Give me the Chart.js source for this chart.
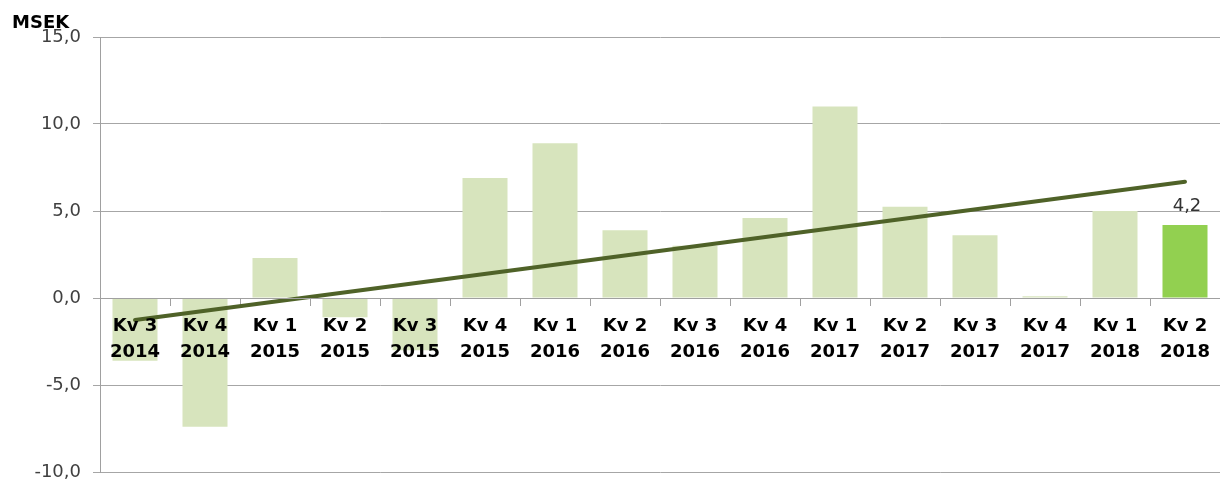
<!DOCTYPE html>
<html><head><meta charset="utf-8">
<script src="https://cdn.jsdelivr.net/npm/chart.js@4/dist/chart.umd.min.js"></script>
<style>html,body{margin:0;padding:0;background:#fff;overflow:hidden;}</style>
</head><body>
<canvas id="c" width="1220" height="483"></canvas>
<script>
const quarters = ['Kv 3','Kv 4','Kv 1','Kv 2','Kv 3','Kv 4','Kv 1','Kv 2','Kv 3','Kv 4','Kv 1','Kv 2','Kv 3','Kv 4','Kv 1','Kv 2'];
const years = ['2014','2014','2015','2015','2015','2015','2016','2016','2016','2016','2017','2017','2017','2017','2018','2018'];
const values = [-3.6, -7.4, 2.3, -1.1, -3.0, 6.9, 8.9, 3.9, 3.0, 4.6, 11.0, 5.25, 3.6, 0.1, 5.0, 4.2];
const trendStart = -1.26;
const trendEnd = 6.68;
const yMin = -10, yMax = 15, yStep = 5;
const unitLabel = 'MSEK';
const highlightIndex = 15;

const labels = quarters.map((q, i) => [q, years[i]]);
const barColors = values.map((v, i) => i === highlightIndex ? '#92d050' : '#d7e4bd');
const trendData = values.map((v, i) => i === 0 ? trendStart : (i === values.length - 1 ? trendEnd : null));
const fmt = v => Number(v).toFixed(1).replace('.', ',');

const FONT = "'DejaVu Sans', sans-serif";

const extras = {
  id: 'extras',
  afterDatasetsDraw(chart) {
    const ctx = chart.ctx;
    ctx.save();
    ctx.fillStyle = '#000';
    ctx.font = "bold 18px " + FONT;
    ctx.textAlign = 'left';
    ctx.textBaseline = 'alphabetic';
    ctx.fillText(unitLabel, 12, 28);
    const bar = chart.getDatasetMeta(1).data[highlightIndex];
    ctx.font = "18px " + FONT;
    ctx.fillStyle = '#333';
    ctx.textAlign = 'center';
    ctx.fillText(fmt(values[highlightIndex]), bar.x + 2, bar.y - 14);
    ctx.restore();
  }
};

new Chart(document.getElementById('c'), {
  data: {
    labels: labels,
    datasets: [
      {
        type: 'line',
        data: trendData,
        spanGaps: true,
        borderColor: '#4f6228',
        borderWidth: 4,
        borderCapStyle: 'round',
        pointRadius: 0,
        order: 0
      },
      {
        type: 'bar',
        data: values,
        backgroundColor: barColors,
        categoryPercentage: 1,
        barPercentage: 0.643,
        order: 1
      }
    ]
  },
  options: {
    responsive: false,
    animation: false,
    plugins: { legend: { display: false }, tooltip: { enabled: false } },
    layout: { padding: { top: 37, bottom: 11, left: 0, right: 0 } },
    scales: {
      x: {
        position: { y: 0 },
        afterFit: s => { s.height = 0; s.paddingTop = 0; s.paddingBottom = 0; s.paddingLeft = 0; s.paddingRight = 0; },
        grid: { drawOnChartArea: false, offset: true, tickLength: 7, color: '#a0a0a0', tickWidth: 1 },
        border: { display: true, color: '#a0a0a0', width: 1, z: 1 },
        ticks: {
          z: 1,
          autoSkip: false, maxRotation: 0, minRotation: 0, padding: 8,
          color: '#000',
          font: { family: FONT, size: 18, weight: 'bold', lineHeight: 1.45 }
        }
      },
      y: {
        min: yMin, max: yMax,
        afterFit: s => { s.width = 100; s.paddingTop = 0; s.paddingBottom = 0; },
        grid: { color: '#a6a6a6', tickLength: 7, lineWidth: 1 },
        border: { display: true, color: '#a0a0a0' },
        ticks: {
          stepSize: yStep, padding: 12, color: '#404040',
          font: { family: FONT, size: 18 },
          callback: v => fmt(v)
        }
      }
    }
  },
  plugins: [extras]
});
</script>
</body></html>
